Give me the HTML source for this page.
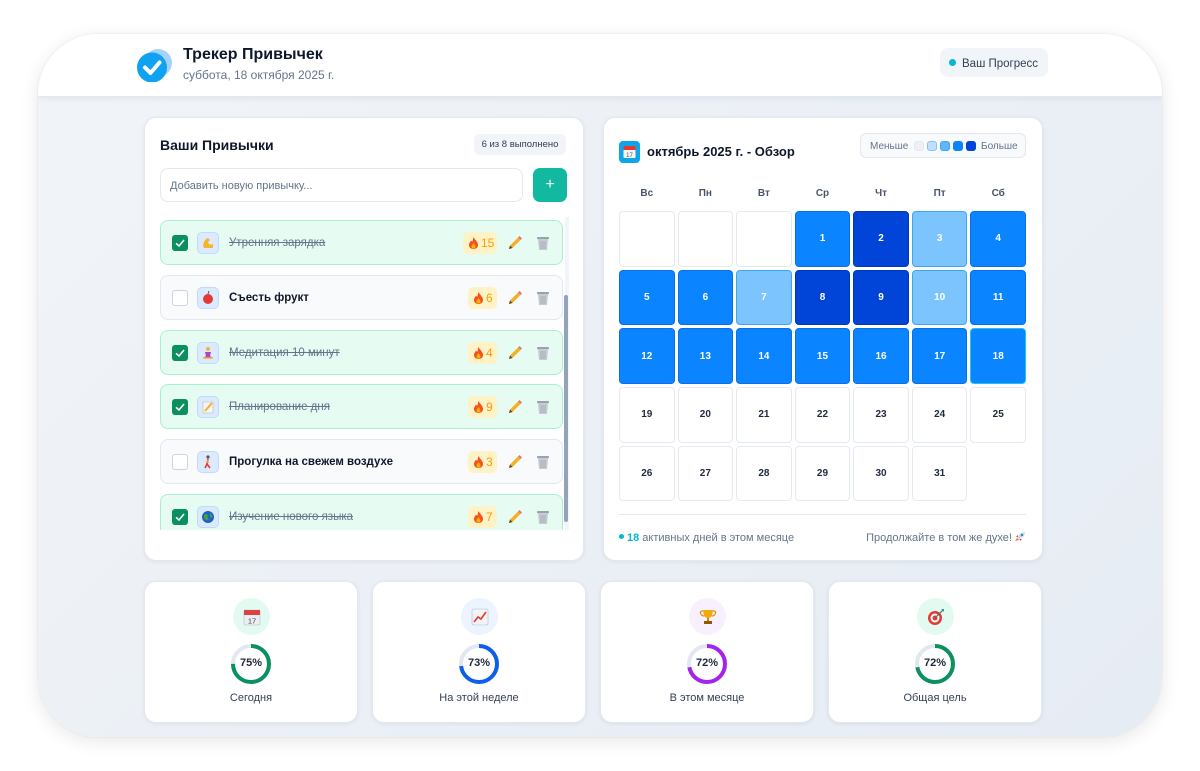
<!DOCTYPE html>
<html><head><meta charset="utf-8">
<style>
*{box-sizing:border-box;margin:0;padding:0}
body{width:1200px;height:771px;background:#fff;font-family:"Liberation Sans","Noto Sans CJK SC",sans-serif;position:relative;overflow:hidden;color:#0f172a}
.win{position:absolute;left:38px;top:34px;width:1124px;height:703px;border-radius:60px;overflow:hidden;background:linear-gradient(135deg,#f1f4f8 0%,#e6ecf4 100%);box-shadow:0 4px 18px rgba(15,23,42,0.10),0 0 2px rgba(15,23,42,0.08)}
.hdr{position:absolute;left:0;top:0;width:1124px;height:63px;background:#fff;border-bottom:1px solid #e2e8f0;box-shadow:0 2px 6px rgba(15,23,42,0.06)}
.abs{position:absolute}
.card{position:absolute;background:#fff;border-radius:12px;border:1px solid #e3e8ef;box-shadow:0 1px 4px rgba(15,23,42,0.07)}
.item{position:absolute;left:0;width:403px;height:45px;border-radius:8px}
.done{background:#e6fcf3;border:1.5px solid #a7f0d0}
.todo{background:#f8fafc;border:1.5px solid #e2e8f0}
.cb{position:absolute;left:11px;top:13.5px;width:16px;height:16px;border-radius:3px}
.cbd{background:#0a8f5e}
.cbu{background:#fff;border:1.5px solid #cbd5e1}
.eb{position:absolute;left:36px;top:11px;width:22px;height:22px;border-radius:5px;background:#dbeafe;border:1px solid #bfdbfe}
.tx{position:absolute;left:68px;top:14px;font-size:11.5px;line-height:16px;white-space:nowrap}
.txd{color:#64748b;text-decoration:line-through}
.txu{color:#0f172a;font-weight:bold}
.st{position:absolute;top:10.5px;height:22px;border-radius:5px;background:#fef3c7;color:#f59e0b;font-size:12px;line-height:22px;padding-left:18px}
.st svg{position:absolute;left:6px;top:5px}
.pen{position:absolute;left:346px;top:14px}
.tr{position:absolute;left:374px;top:14px}
.grid{position:absolute;left:619px;width:407px;display:grid;grid-template-columns:repeat(7,1fr);column-gap:3px;row-gap:3px}
.c{height:55.7px;border-radius:4px;font-size:10px;font-weight:bold;display:flex;align-items:center;justify-content:center}
.e{background:#fff;border:1.5px solid #e5eaf1;color:#1e293b}
.n{background:transparent}
.l3{background:#0a84ff;border:1px solid #0a6fe6;color:#fff}
.l4{background:#0044d8;border:1px solid #0038b8;color:#fff}
.l2{background:#7cc4fd;border:1.5px solid #3ba6f6;color:#fff}
.wd{font-size:10px;font-weight:bold;color:#475569;text-align:center;line-height:14px}
.sc{position:absolute;top:581px;width:214px;height:142px}
.ic{position:absolute;left:50%;top:16px;width:37px;height:37px;margin-left:-18.5px;border-radius:50%}
.ring{position:absolute;left:50%;top:61px;margin-left:-21px}
.pct{position:absolute;left:0;width:100%;top:75px;text-align:center;font-size:11px;font-weight:bold;color:#1e293b}
.lbl{position:absolute;left:0;width:100%;top:110px;text-align:center;font-size:11px;color:#334155}
</style></head><body>
<div class="win">
  <div class="hdr">
    <svg class="abs" style="left:97px;top:10px" width="40" height="38" viewBox="0 0 40 38">
      <circle cx="23" cy="19" r="14" fill="#a5d2fc"/>
      <circle cx="17" cy="23.5" r="15" fill="#0ea2f0"/>
      <path d="M10 23.5 L15.5 29 L24.5 18.5" stroke="#fff" stroke-width="4" fill="none" stroke-linecap="round" stroke-linejoin="round"/>
    </svg>
    <div class="abs" style="left:145px;top:12px;font-size:16px;font-weight:bold;color:#0f172a">Трекер Привычек</div>
    <div class="abs" style="left:145px;top:34px;font-size:12px;color:#64748b">суббота, 18 октября 2025 г.</div>
    <div class="abs" style="left:902px;top:14px;width:108px;height:29px;border-radius:8px;background:#f1f5f9"></div>
    <div class="abs" style="left:911px;top:25px;width:7px;height:7px;border-radius:50%;background:#06b6d4"></div>
    <div class="abs" style="left:924px;top:16px;height:29px;line-height:29px;font-size:11.5px;color:#334155">Ваш Прогресс</div>
  </div>
</div>

<!-- Left card -->
<div class="card" style="left:144px;top:117px;width:440px;height:444px"></div>
<div class="abs" style="left:160px;top:137px;font-size:14px;font-weight:bold;color:#0f172a">Ваши Привычки</div>
<div class="abs" style="left:474px;top:134px;width:92px;height:21px;border-radius:6px;background:#f1f5f9;font-size:9.5px;line-height:21px;text-align:center;color:#334155">6 из 8 выполнено</div>
<div class="abs" style="left:160px;top:168px;width:363px;height:34px;border-radius:8px;border:1.5px solid #e2e8f0;background:#fff"></div>
<div class="abs" style="left:170px;top:169px;height:34px;line-height:34px;font-size:11px;color:#64748b">Добавить новую привычку...</div>
<div class="abs" style="left:533px;top:168px;width:34px;height:34px;border-radius:7px;background:#12b8a0;color:#fff;font-size:16px;line-height:33px;text-align:center">+</div>

<div class="abs" style="left:160px;top:217px;width:404px;height:313px;overflow:hidden">
  <!-- 1 -->
  <div class="item done" style="top:3px">
    <div class="cb cbd"><svg width="16" height="16"><path d="M4 8.3 L7 11 L12 5" stroke="#fff" stroke-width="1.6" fill="none"/></svg></div>
    <div class="eb"><svg width="20" height="20"><path d="M5 13 Q6 6 10 5 L12 7 L10 9 Q11 13 15 11 L15 15 L6 15Z" fill="#f6b52a"/></svg></div>
    <div class="tx txd">Утренняя зарядка</div>
    <div class="st" style="left:302px;width:34px"><svg width="9" height="12" viewBox="0 0 9 12"><path d="M4.5 0 C6 3 9 5 9 8 C9 10.5 7 12 4.5 12 C2 12 0 10.5 0 8 C0 6 1.5 5 2 3.5 C3 5 3.5 5 3.5 4 Z" fill="#f4511e"/><path d="M4.5 6 C5.5 7.5 6.5 8.5 6.5 9.5 C6.5 11 5.5 11.5 4.5 11.5 C3.5 11.5 2.5 11 2.5 9.5 C2.5 8.5 3.5 7.5 4.5 6Z" fill="#ffb300"/></svg>15</div>
    <svg class="pen" width="16" height="16"><path d="M2 14 L3 10.5 L11 2.5 L13.5 5 L5.5 13 Z" fill="#f6b026"/><path d="M11 2.5 L13.5 5 L15 3.5 L12.5 1Z" fill="#e57373"/><path d="M2 14 L3 10.5 L5.5 13Z" fill="#5d4037"/></svg>
    <svg class="tr" width="16" height="16"><rect x="2" y="2" width="12" height="2.2" rx="0.8" fill="#9aa3ad"/><path d="M3 4.5 L13 4.5 L12 15 L4 15Z" fill="#c5cbd1"/><path d="M6 6 V14 M8 6 V14 M10 6 V14" stroke="#9aa3ad" stroke-width="0.7"/></svg>
  </div>
  <!-- 2 -->
  <div class="item todo" style="top:58px">
    <div class="cb cbu"></div>
    <div class="eb"><svg width="20" height="20"><circle cx="10" cy="11" r="5" fill="#e53935"/><path d="M10 6 L11 3" stroke="#6d4c41" stroke-width="1"/></svg></div>
    <div class="tx txu">Съесть фрукт</div>
    <div class="st" style="left:307px;width:29px"><svg width="9" height="12" viewBox="0 0 9 12"><path d="M4.5 0 C6 3 9 5 9 8 C9 10.5 7 12 4.5 12 C2 12 0 10.5 0 8 C0 6 1.5 5 2 3.5 C3 5 3.5 5 3.5 4 Z" fill="#f4511e"/><path d="M4.5 6 C5.5 7.5 6.5 8.5 6.5 9.5 C6.5 11 5.5 11.5 4.5 11.5 C3.5 11.5 2.5 11 2.5 9.5 C2.5 8.5 3.5 7.5 4.5 6Z" fill="#ffb300"/></svg>6</div>
    <svg class="pen" width="16" height="16"><path d="M2 14 L3 10.5 L11 2.5 L13.5 5 L5.5 13 Z" fill="#f6b026"/><path d="M11 2.5 L13.5 5 L15 3.5 L12.5 1Z" fill="#e57373"/><path d="M2 14 L3 10.5 L5.5 13Z" fill="#5d4037"/></svg>
    <svg class="tr" width="16" height="16"><rect x="2" y="2" width="12" height="2.2" rx="0.8" fill="#9aa3ad"/><path d="M3 4.5 L13 4.5 L12 15 L4 15Z" fill="#c5cbd1"/><path d="M6 6 V14 M8 6 V14 M10 6 V14" stroke="#9aa3ad" stroke-width="0.7"/></svg>
  </div>
  <!-- 3 -->
  <div class="item done" style="top:113px">
    <div class="cb cbd"><svg width="16" height="16"><path d="M4 8.3 L7 11 L12 5" stroke="#fff" stroke-width="1.6" fill="none"/></svg></div>
    <div class="eb"><svg width="20" height="20"><circle cx="10" cy="6" r="2" fill="#f6b52a"/><path d="M7 9 L13 9 L12 13 L15 15 L5 15 L8 13Z" fill="#ab47bc"/><path d="M5 15 L15 15" stroke="#f6b52a" stroke-width="1.5"/></svg></div>
    <div class="tx txd">Медитация 10 минут</div>
    <div class="st" style="left:307px;width:29px"><svg width="9" height="12" viewBox="0 0 9 12"><path d="M4.5 0 C6 3 9 5 9 8 C9 10.5 7 12 4.5 12 C2 12 0 10.5 0 8 C0 6 1.5 5 2 3.5 C3 5 3.5 5 3.5 4 Z" fill="#f4511e"/><path d="M4.5 6 C5.5 7.5 6.5 8.5 6.5 9.5 C6.5 11 5.5 11.5 4.5 11.5 C3.5 11.5 2.5 11 2.5 9.5 C2.5 8.5 3.5 7.5 4.5 6Z" fill="#ffb300"/></svg>4</div>
    <svg class="pen" width="16" height="16"><path d="M2 14 L3 10.5 L11 2.5 L13.5 5 L5.5 13 Z" fill="#f6b026"/><path d="M11 2.5 L13.5 5 L15 3.5 L12.5 1Z" fill="#e57373"/><path d="M2 14 L3 10.5 L5.5 13Z" fill="#5d4037"/></svg>
    <svg class="tr" width="16" height="16"><rect x="2" y="2" width="12" height="2.2" rx="0.8" fill="#9aa3ad"/><path d="M3 4.5 L13 4.5 L12 15 L4 15Z" fill="#c5cbd1"/><path d="M6 6 V14 M8 6 V14 M10 6 V14" stroke="#9aa3ad" stroke-width="0.7"/></svg>
  </div>
  <!-- 4 -->
  <div class="item done" style="top:167px">
    <div class="cb cbd"><svg width="16" height="16"><path d="M4 8.3 L7 11 L12 5" stroke="#fff" stroke-width="1.6" fill="none"/></svg></div>
    <div class="eb"><svg width="20" height="20"><rect x="5" y="5" width="10" height="11" fill="#f5f5f5" stroke="#bdbdbd" stroke-width="0.6"/><path d="M7 14 L14 6" stroke="#f6b026" stroke-width="2"/></svg></div>
    <div class="tx txd">Планирование дня</div>
    <div class="st" style="left:307px;width:29px"><svg width="9" height="12" viewBox="0 0 9 12"><path d="M4.5 0 C6 3 9 5 9 8 C9 10.5 7 12 4.5 12 C2 12 0 10.5 0 8 C0 6 1.5 5 2 3.5 C3 5 3.5 5 3.5 4 Z" fill="#f4511e"/><path d="M4.5 6 C5.5 7.5 6.5 8.5 6.5 9.5 C6.5 11 5.5 11.5 4.5 11.5 C3.5 11.5 2.5 11 2.5 9.5 C2.5 8.5 3.5 7.5 4.5 6Z" fill="#ffb300"/></svg>9</div>
    <svg class="pen" width="16" height="16"><path d="M2 14 L3 10.5 L11 2.5 L13.5 5 L5.5 13 Z" fill="#f6b026"/><path d="M11 2.5 L13.5 5 L15 3.5 L12.5 1Z" fill="#e57373"/><path d="M2 14 L3 10.5 L5.5 13Z" fill="#5d4037"/></svg>
    <svg class="tr" width="16" height="16"><rect x="2" y="2" width="12" height="2.2" rx="0.8" fill="#9aa3ad"/><path d="M3 4.5 L13 4.5 L12 15 L4 15Z" fill="#c5cbd1"/><path d="M6 6 V14 M8 6 V14 M10 6 V14" stroke="#9aa3ad" stroke-width="0.7"/></svg>
  </div>
  <!-- 5 -->
  <div class="item todo" style="top:222px">
    <div class="cb cbu"></div>
    <div class="eb"><svg width="20" height="20"><circle cx="10" cy="5" r="1.6" fill="#6d4c41"/><path d="M10 7 L9 12 L7 16 M9 12 L12 16" stroke="#e53935" stroke-width="1.6" fill="none"/><path d="M10 8 L10 11" stroke="#f6b026" stroke-width="1.6"/></svg></div>
    <div class="tx txu">Прогулка на свежем воздухе</div>
    <div class="st" style="left:307px;width:29px"><svg width="9" height="12" viewBox="0 0 9 12"><path d="M4.5 0 C6 3 9 5 9 8 C9 10.5 7 12 4.5 12 C2 12 0 10.5 0 8 C0 6 1.5 5 2 3.5 C3 5 3.5 5 3.5 4 Z" fill="#f4511e"/><path d="M4.5 6 C5.5 7.5 6.5 8.5 6.5 9.5 C6.5 11 5.5 11.5 4.5 11.5 C3.5 11.5 2.5 11 2.5 9.5 C2.5 8.5 3.5 7.5 4.5 6Z" fill="#ffb300"/></svg>3</div>
    <svg class="pen" width="16" height="16"><path d="M2 14 L3 10.5 L11 2.5 L13.5 5 L5.5 13 Z" fill="#f6b026"/><path d="M11 2.5 L13.5 5 L15 3.5 L12.5 1Z" fill="#e57373"/><path d="M2 14 L3 10.5 L5.5 13Z" fill="#5d4037"/></svg>
    <svg class="tr" width="16" height="16"><rect x="2" y="2" width="12" height="2.2" rx="0.8" fill="#9aa3ad"/><path d="M3 4.5 L13 4.5 L12 15 L4 15Z" fill="#c5cbd1"/><path d="M6 6 V14 M8 6 V14 M10 6 V14" stroke="#9aa3ad" stroke-width="0.7"/></svg>
  </div>
  <!-- 6 -->
  <div class="item done" style="top:277px">
    <div class="cb cbd"><svg width="16" height="16"><path d="M4 8.3 L7 11 L12 5" stroke="#fff" stroke-width="1.6" fill="none"/></svg></div>
    <div class="eb"><svg width="20" height="20"><circle cx="10" cy="10" r="6" fill="#1e63c4"/><path d="M6 8 Q8 6 10 8 Q9 11 11 13 Q8 14 6 11Z" fill="#43a047"/><path d="M12 6 Q15 8 14 11 L12 10Z" fill="#43a047"/></svg></div>
    <div class="tx txd">Изучение нового языка</div>
    <div class="st" style="left:307px;width:29px"><svg width="9" height="12" viewBox="0 0 9 12"><path d="M4.5 0 C6 3 9 5 9 8 C9 10.5 7 12 4.5 12 C2 12 0 10.5 0 8 C0 6 1.5 5 2 3.5 C3 5 3.5 5 3.5 4 Z" fill="#f4511e"/><path d="M4.5 6 C5.5 7.5 6.5 8.5 6.5 9.5 C6.5 11 5.5 11.5 4.5 11.5 C3.5 11.5 2.5 11 2.5 9.5 C2.5 8.5 3.5 7.5 4.5 6Z" fill="#ffb300"/></svg>7</div>
    <svg class="pen" width="16" height="16"><path d="M2 14 L3 10.5 L11 2.5 L13.5 5 L5.5 13 Z" fill="#f6b026"/><path d="M11 2.5 L13.5 5 L15 3.5 L12.5 1Z" fill="#e57373"/><path d="M2 14 L3 10.5 L5.5 13Z" fill="#5d4037"/></svg>
    <svg class="tr" width="16" height="16"><rect x="2" y="2" width="12" height="2.2" rx="0.8" fill="#9aa3ad"/><path d="M3 4.5 L13 4.5 L12 15 L4 15Z" fill="#c5cbd1"/><path d="M6 6 V14 M8 6 V14 M10 6 V14" stroke="#9aa3ad" stroke-width="0.7"/></svg>
  </div>
</div>
<div class="abs" style="left:565px;top:217px;width:4px;height:313px;background:#f1f5f9"></div>
<div class="abs" style="left:564px;top:295px;width:4px;height:227px;border-radius:2px;background:#94a3b8"></div>

<!-- Right card -->
<div class="card" style="left:603px;top:117px;width:440px;height:444px"></div>
<div class="abs" style="left:619px;top:141px;width:21px;height:22px;border-radius:4px;background:#0ea5e9"></div>
<svg class="abs" style="left:623px;top:145px" width="13" height="14"><rect x="0.5" y="1" width="12" height="12" rx="1" fill="#f5f5f5"/><rect x="0.5" y="1" width="12" height="4" fill="#e53935"/><text x="6.5" y="12" font-size="6" text-anchor="middle" fill="#555" font-family="Liberation Sans">17</text></svg>
<div class="abs" style="left:647px;top:144px;font-size:13px;font-weight:bold;color:#0f172a">октябрь 2025 г. - Обзор</div>
<div class="abs" style="left:860px;top:133px;width:166px;height:25px;border-radius:6px;border:1px solid #e2e8f0;background:#f8fafc"></div>
<div class="abs" style="left:870px;top:134px;height:25px;line-height:25px;font-size:10px;color:#64748b">Меньше</div>
<div class="abs" style="left:914px;top:141px;width:10px;height:10px;border-radius:3px;background:#edf1f6;border:1px solid #e2e8f0"></div>
<div class="abs" style="left:927px;top:141px;width:10px;height:10px;border-radius:3px;background:#bfe0fd;border:1px solid #7cc4fd"></div>
<div class="abs" style="left:940px;top:141px;width:10px;height:10px;border-radius:3px;background:#62b4fb;border:1px solid #3ba6f6"></div>
<div class="abs" style="left:953px;top:141px;width:10px;height:10px;border-radius:3px;background:#0a84ff"></div>
<div class="abs" style="left:966px;top:141px;width:10px;height:10px;border-radius:3px;background:#0044d8"></div>
<div class="abs" style="left:981px;top:134px;height:25px;line-height:25px;font-size:10px;color:#64748b">Больше</div>

<div class="grid" style="top:187px">
  <div class="wd">Вс</div><div class="wd">Пн</div><div class="wd">Вт</div><div class="wd">Ср</div><div class="wd">Чт</div><div class="wd">Пт</div><div class="wd">Сб</div>
</div>
<div class="grid" style="top:211px">
  <div class="c e"></div><div class="c e"></div><div class="c e"></div><div class="c l3">1</div><div class="c l4">2</div><div class="c l2">3</div><div class="c l3">4</div>
  <div class="c l3">5</div><div class="c l3">6</div><div class="c l2">7</div><div class="c l4">8</div><div class="c l4">9</div><div class="c l2">10</div><div class="c l3">11</div>
  <div class="c l3">12</div><div class="c l3">13</div><div class="c l3">14</div><div class="c l3">15</div><div class="c l3">16</div><div class="c l3">17</div><div class="c l3" style="border:1.5px solid #22c3ee">18</div>
  <div class="c e">19</div><div class="c e">20</div><div class="c e">21</div><div class="c e">22</div><div class="c e">23</div><div class="c e">24</div><div class="c e">25</div>
  <div class="c e">26</div><div class="c e">27</div><div class="c e">28</div><div class="c e">29</div><div class="c e">30</div><div class="c e">31</div><div class="c n"></div>
</div>
<div class="abs" style="left:619px;top:514px;width:407px;height:1px;background:#e2e8f0"></div>
<div class="abs" style="left:619px;top:534px;width:5px;height:5px;border-radius:50%;background:#06b6d4"></div>
<div class="abs" style="left:627px;top:530px;height:16px;line-height:16px;font-size:11px;color:#64748b;white-space:nowrap"><b style="color:#06b6d4">18</b> активных дней в этом месяце</div>
<div class="abs" style="left:826px;top:530px;height:16px;line-height:16px;width:200px;text-align:right;font-size:11px;color:#64748b;white-space:nowrap">Продолжайте в том же духе! <svg width="11" height="11" style="vertical-align:-1px"><path d="M10 1 L6 2 L2 7 L4 9 L9 5Z" fill="#cfd8dc"/><circle cx="7" cy="4" r="1.2" fill="#1e88e5"/><path d="M2 7 L0 10 L4 9Z" fill="#ff7043"/><path d="M3 6 L1 6 L3 4Z M5 8 L5 10 L7 8Z" fill="#e53935"/></svg></div>

<!-- Stat cards -->
<div class="card sc" style="left:144px">
  <div class="ic" style="background:#e3faf1"></div>
  <svg class="abs" style="left:98px;top:26px" width="18" height="18"><rect x="1" y="2" width="16" height="15" rx="1.5" fill="#eceff1" stroke="#b0bec5" stroke-width="0.6"/><rect x="1" y="2" width="16" height="5" fill="#d84343"/><text x="9" y="15.5" font-size="7.5" text-anchor="middle" fill="#37474f" font-family="Liberation Sans">17</text></svg>
  <svg class="ring" width="42" height="42"><circle cx="21" cy="21" r="18" fill="none" stroke="#e2e8f0" stroke-width="4"/><circle cx="21" cy="21" r="18" fill="none" stroke="#0a915f" stroke-width="4" stroke-dasharray="84.8 113.1" transform="rotate(-90 21 21)"/></svg>
  <div class="pct">75%</div>
  <div class="lbl">Сегодня</div>
</div>
<div class="card sc" style="left:372px">
  <div class="ic" style="background:#edf4ff"></div>
  <svg class="abs" style="left:98px;top:26px" width="18" height="18"><rect x="1" y="1" width="16" height="16" rx="1.5" fill="#f1f3f5" stroke="#b0bec5" stroke-width="0.6"/><path d="M3 14 L7 9 L10 11 L15 4" stroke="#e53935" stroke-width="1.6" fill="none"/></svg>
  <svg class="ring" width="42" height="42"><circle cx="21" cy="21" r="18" fill="none" stroke="#e2e8f0" stroke-width="4"/><circle cx="21" cy="21" r="18" fill="none" stroke="#0d5ee9" stroke-width="4" stroke-dasharray="82.6 113.1" transform="rotate(-90 21 21)"/></svg>
  <div class="pct">73%</div>
  <div class="lbl">На этой неделе</div>
</div>
<div class="card sc" style="left:600px">
  <div class="ic" style="background:#f9f0ff"></div>
  <svg class="abs" style="left:98px;top:26px" width="18" height="18"><path d="M4 2 L14 2 L13 8 Q9 12 5 8Z" fill="#f0a80a"/><path d="M4 3 Q0 3 2 6 Q3 8 5 8 M14 3 Q18 3 16 6 Q15 8 13 8" stroke="#e09000" stroke-width="1.2" fill="none"/><rect x="8" y="10" width="2" height="3" fill="#c98500"/><rect x="5" y="13" width="8" height="3" fill="#8d5a00"/></svg>
  <svg class="ring" width="42" height="42"><circle cx="21" cy="21" r="18" fill="none" stroke="#e2e8f0" stroke-width="4"/><circle cx="21" cy="21" r="18" fill="none" stroke="#a424ec" stroke-width="4" stroke-dasharray="81.4 113.1" transform="rotate(-90 21 21)"/></svg>
  <div class="pct">72%</div>
  <div class="lbl">В этом месяце</div>
</div>
<div class="card sc" style="left:828px">
  <div class="ic" style="background:#e3faf1"></div>
  <svg class="abs" style="left:98px;top:26px" width="18" height="18"><circle cx="8" cy="10" r="7" fill="#e53935"/><circle cx="8" cy="10" r="4.5" fill="#fff"/><circle cx="8" cy="10" r="2.5" fill="#e53935"/><path d="M8 10 L16 2" stroke="#546e7a" stroke-width="1.2"/><path d="M14 1 L17 1 L17 4Z" fill="#26a69a"/></svg>
  <svg class="ring" width="42" height="42"><circle cx="21" cy="21" r="18" fill="none" stroke="#e2e8f0" stroke-width="4"/><circle cx="21" cy="21" r="18" fill="none" stroke="#0a915f" stroke-width="4" stroke-dasharray="81.4 113.1" transform="rotate(-90 21 21)"/></svg>
  <div class="pct">72%</div>
  <div class="lbl">Общая цель</div>
</div>
</body></html>
